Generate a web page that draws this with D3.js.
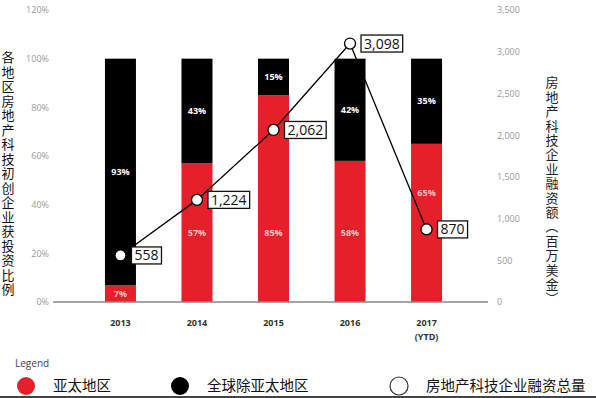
<!DOCTYPE html>
<html>
<head>
<meta charset="utf-8">
<script src="https://cdn.jsdelivr.net/npm/d3@7"></script>
<style>
  html, body { margin: 0; padding: 0; background: #fff; }
  svg { display: block; font-family: "Open Sans", sans-serif; }
</style>
</head>
<body>
<svg id="chart" width="596" height="398"></svg>
<script>
// data
var years = ["2013", "2014", "2015", "2016", "2017"];
var yearSub = ["", "", "", "", "(YTD)"];
var apac = [7, 57, 85, 58, 65];       // % Asia Pacific (red)
var rest = [93, 43, 15, 42, 35];      // % rest of world (black)
var funding = [558, 1224, 2062, 3098, 870]; // USD million
var pctTicks = [0, 20, 40, 60, 80, 100, 120];
var usdTicks = [0, 500, 1000, 1500, 2000, 2500, 3000, 3500];
var legendLabels = ["亚太地区", "全球除亚太地区", "房地产科技企业融资总量"];
var leftTitle = "各地区房地产科技初创企业获投资比例";
var rightTitle = "房地产科技企业融资额（百万美金）";

// layout: where the red-segment labels sit (in % of the left axis)
var redLabelAt = [3.5, 28.5, 28.5, 28.5, 45];

var RED = "#e5202a", BLACK = "#000";

var svg = d3.select("#chart");

var x = d3.scaleBand().domain(years).range([82, 465]).paddingInner(0.595).paddingOuter(0.3);
var yPct = d3.scaleLinear().domain([0, 120]).range([302, 10]);
var yUsd = d3.scaleLinear().domain([0, 3500]).range([302, 10]);

// left axis
var gl = svg.append("g").attr("transform", "translate(52,0)")
  .call(d3.axisLeft(yPct).tickValues(pctTicks).tickSize(0).tickPadding(3).tickFormat(function(d){ return d + "%"; }));
gl.select(".domain").remove();
gl.selectAll("text").attr("fill", "#999").style("font-size", "9px").style("font-family", "Open Sans");

// right axis
var gr = svg.append("g").attr("transform", "translate(494,0)")
  .call(d3.axisRight(yUsd).tickValues(usdTicks).tickSize(0).tickPadding(3).tickFormat(d3.format(",")));
gr.select(".domain").remove();
gr.selectAll("text").attr("fill", "#999").style("font-size", "9px").style("font-family", "Open Sans");

// bars
var rows = years.map(function(y, i){ return {year: y, sub: yearSub[i], a: apac[i], r: rest[i], f: funding[i], la: redLabelAt[i]}; });

var bars = svg.append("g").selectAll("g").data(rows).enter().append("g");
bars.append("rect")
  .attr("x", function(d){ return x(d.year); })
  .attr("width", x.bandwidth())
  .attr("y", function(d){ return yPct(d.a); })
  .attr("height", function(d){ return yPct(0) - yPct(d.a); })
  .attr("fill", RED);
bars.append("rect")
  .attr("x", function(d){ return x(d.year); })
  .attr("width", x.bandwidth())
  .attr("y", function(d){ return yPct(d.a + d.r); })
  .attr("height", function(d){ return yPct(d.a) - yPct(d.a + d.r); })
  .attr("fill", BLACK);

bars.append("text")
  .attr("x", function(d){ return x(d.year) + x.bandwidth() / 2; })
  .attr("y", function(d){ return yPct(d.la); })
  .attr("dy", "0.35em")
  .attr("text-anchor", "middle")
  .attr("fill", "#f6c4c4")
  .style("font-size", "9px").style("font-weight", "bold")
  .text(function(d){ return d.a + "%"; });
bars.append("text")
  .attr("x", function(d){ return x(d.year) + x.bandwidth() / 2; })
  .attr("y", function(d){ return yPct(d.a + d.r / 2); })
  .attr("dy", "0.35em")
  .attr("text-anchor", "middle")
  .attr("fill", "#fff")
  .style("font-size", "9px").style("font-weight", "bold")
  .text(function(d){ return d.r + "%"; });

// baseline
svg.append("line").attr("x1", 53).attr("x2", 488).attr("y1", yPct(0)).attr("y2", yPct(0))
  .attr("stroke", "#888").attr("stroke-width", 1.5);

// year labels
var cx = function(d){ return x(d.year) + x.bandwidth() / 2; };
svg.append("g").selectAll("text").data(rows).enter().append("text")
  .attr("x", cx).attr("y", 326)
  .attr("text-anchor", "middle").attr("fill", "#333")
  .style("font-size", "9px").style("font-weight", "bold")
  .text(function(d){ return d.year; });
svg.append("g").selectAll("text").data(rows.filter(function(d){ return d.sub; })).enter().append("text")
  .attr("x", cx).attr("y", 340)
  .attr("text-anchor", "middle").attr("fill", "#333")
  .style("font-size", "9px").style("font-weight", "bold")
  .text(function(d){ return d.sub; });

// funding line
var line = d3.line().x(cx).y(function(d){ return yUsd(d.f); });
svg.append("path").datum(rows).attr("d", line)
  .attr("fill", "none").attr("stroke", "#000").attr("stroke-width", 1.3);
svg.append("g").selectAll("circle").data(rows).enter().append("circle")
  .attr("cx", cx).attr("cy", function(d){ return yUsd(d.f); }).attr("r", 5.5)
  .attr("fill", "#fff").attr("stroke", "#000").attr("stroke-width", 1.3);

// value boxes
var fmt = d3.format(",");
var boxes = svg.append("g").selectAll("g").data(rows).enter().append("g")
  .attr("transform", function(d){ return "translate(" + (cx(d) + 11) + "," + yUsd(d.f) + ")"; });
var bt = boxes.append("text")
  .attr("x", 3).attr("dy", "0.36em")
  .attr("fill", "#111")
  .style("font-size", "14px")
  .text(function(d){ return fmt(d.f); });
bt.each(function(){
  var w = this.getComputedTextLength();
  d3.select(this.parentNode).insert("rect", "text")
    .attr("x", 0).attr("y", -8.5).attr("width", w + 6).attr("height", 17)
    .attr("fill", "#fff").attr("stroke", "#111").attr("stroke-width", 1.3);
});

// vertical titles
svg.append("text")
  .attr("x", 8).attr("y", 51)
  .attr("writing-mode", "vertical-rl")
  .style("text-orientation", "upright")
  .style("font-family", "Noto Sans CJK SC").style("font-size", "13px")
  .style("letter-spacing", "1.5px")
  .attr("fill", "#111")
  .text(leftTitle);
svg.append("text")
  .attr("x", 552).attr("y", 76)
  .attr("writing-mode", "vertical-rl")
  .style("text-orientation", "upright")
  .style("font-family", "Noto Sans CJK SC").style("font-size", "13px")
  .style("letter-spacing", "1.4px")
  .attr("fill", "#222")
  .text(rightTitle);

// legend
svg.append("text").attr("x", 15).attr("y", 367)
  .attr("fill", "#444").style("font-size", "10px").text("Legend");
var legX = [26, 180, 399];
var legFill = [RED, BLACK, "#fff"];
var leg = svg.append("g").selectAll("g").data(legendLabels).enter().append("g")
  .attr("transform", function(d, i){ return "translate(" + legX[i] + ",386)"; });
leg.append("circle").attr("r", 9)
  .attr("fill", function(d, i){ return legFill[i]; })
  .attr("stroke", function(d, i){ return i == 2 ? "#333" : "none"; })
  .attr("stroke-width", 1.2);
leg.append("text").attr("x", 27).attr("dy", "0.36em")
  .attr("fill", "#111")
  .style("font-family", "Noto Sans CJK SC").style("font-size", "14.5px")
  .text(function(d){ return d; });

// dark edge at the bottom of the picture
svg.append("rect").attr("x", 0).attr("y", 396).attr("width", 596).attr("height", 2).attr("fill", "#444");
</script>
</body>
</html>
